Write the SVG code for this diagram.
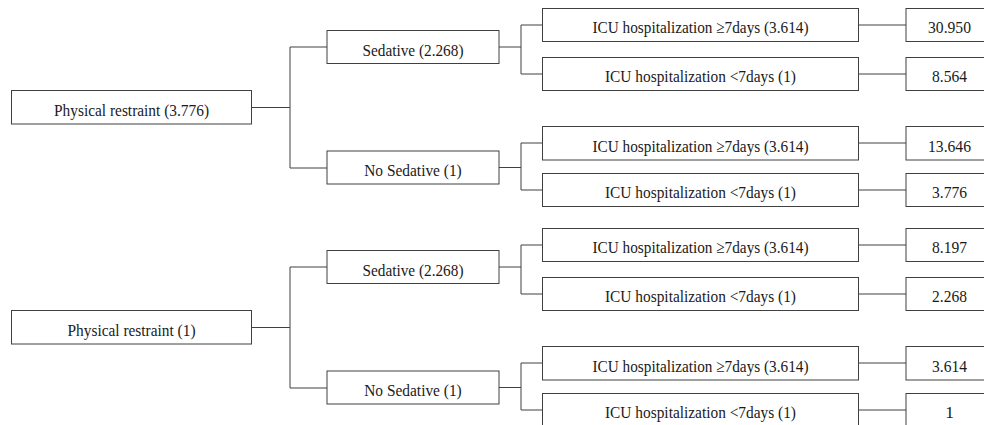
<svg xmlns="http://www.w3.org/2000/svg" width="984" height="425" viewBox="0 0 984 425">
<style>
rect{fill:#fff;stroke:#404040;stroke-width:1}
text{font-family:"Liberation Serif","Times New Roman",serif;font-size:17.5px;fill:#1a1a1a;text-anchor:middle}
.c path{fill:none;stroke:#404040;stroke-width:1}
</style>
<rect x="0" y="0" width="984" height="425" style="stroke:none"/>
<g class="c" id="connectors">
<path d="M251.5 107.5H290M290 47V168M290 47H327M290 168H327"/>
<path d="M499 47H521M521 25V74M521 25H542.5M521 74H542.5"/>
<path d="M499 167.5H521M521 143V190M521 143H542.5M521 190H542.5"/>
<path d="M858.5 25H906M858.5 74H906M858.5 143H906M858.5 190H906"/>
<path d="M251.5 327.5H290M290 267V388M290 267H327M290 388H327"/>
<path d="M499 267H521M521 245V294M521 245H542.5M521 294H542.5"/>
<path d="M499 387.5H521M521 363V410M521 363H542.5M521 410H542.5"/>
<path d="M858.5 245H906M858.5 294H906M858.5 363H906M858.5 410H906"/>
</g>
<g id="pr1"><rect x="11.5" y="90.5" width="240" height="33.5"/><text x="131.5" y="115.5" textLength="155" lengthAdjust="spacingAndGlyphs">Physical restraint (3.776)</text></g>
<g id="sed1"><rect x="327" y="30.5" width="172" height="33"/><text x="413" y="55.5" textLength="101" lengthAdjust="spacingAndGlyphs">Sedative (2.268)</text></g>
<g id="nosed1"><rect x="327" y="151" width="172" height="33"/><text x="413" y="176" textLength="97.5" lengthAdjust="spacingAndGlyphs">No Sedative (1)</text></g>
<g id="icu1"><rect x="542.5" y="8.5" width="316" height="33"/><text x="700.5" y="33.3" textLength="216" lengthAdjust="spacingAndGlyphs">ICU hospitalization ≥7days (3.614)</text></g>
<g id="icu2"><rect x="542.5" y="57.5" width="316" height="33"/><text x="700.5" y="82.3" textLength="191" lengthAdjust="spacingAndGlyphs">ICU hospitalization &lt;7days (1)</text></g>
<g id="icu3"><rect x="542.5" y="126.5" width="316" height="33.5"/><text x="700.5" y="151.5" textLength="216" lengthAdjust="spacingAndGlyphs">ICU hospitalization ≥7days (3.614)</text></g>
<g id="icu4"><rect x="542.5" y="173.5" width="316" height="33"/><text x="700.5" y="198.3" textLength="191" lengthAdjust="spacingAndGlyphs">ICU hospitalization &lt;7days (1)</text></g>
<g id="v1"><rect x="906" y="8.5" width="87" height="33"/><text x="949.5" y="33.3" textLength="43" lengthAdjust="spacingAndGlyphs">30.950</text></g>
<g id="v2"><rect x="906" y="57.5" width="87" height="33"/><text x="949.5" y="82.3" textLength="35" lengthAdjust="spacingAndGlyphs">8.564</text></g>
<g id="v3"><rect x="906" y="126.5" width="87" height="33.5"/><text x="949.5" y="151.5" textLength="43" lengthAdjust="spacingAndGlyphs">13.646</text></g>
<g id="v4"><rect x="906" y="173.5" width="87" height="33"/><text x="949.5" y="198.3" textLength="35" lengthAdjust="spacingAndGlyphs">3.776</text></g>
<g id="pr2"><rect x="11.5" y="310.5" width="240" height="33.5"/><text x="131.5" y="335.5" textLength="128" lengthAdjust="spacingAndGlyphs">Physical restraint (1)</text></g>
<g id="sed2"><rect x="327" y="250.5" width="172" height="33"/><text x="413" y="275.5" textLength="101" lengthAdjust="spacingAndGlyphs">Sedative (2.268)</text></g>
<g id="nosed2"><rect x="327" y="371" width="172" height="33"/><text x="413" y="396" textLength="97.5" lengthAdjust="spacingAndGlyphs">No Sedative (1)</text></g>
<g id="icu5"><rect x="542.5" y="228.5" width="316" height="33"/><text x="700.5" y="253.3" textLength="216" lengthAdjust="spacingAndGlyphs">ICU hospitalization ≥7days (3.614)</text></g>
<g id="icu6"><rect x="542.5" y="277.5" width="316" height="33"/><text x="700.5" y="302.3" textLength="191" lengthAdjust="spacingAndGlyphs">ICU hospitalization &lt;7days (1)</text></g>
<g id="icu7"><rect x="542.5" y="346.5" width="316" height="33.5"/><text x="700.5" y="371.5" textLength="216" lengthAdjust="spacingAndGlyphs">ICU hospitalization ≥7days (3.614)</text></g>
<g id="icu8"><rect x="542.5" y="393.5" width="316" height="33"/><text x="700.5" y="418.3" textLength="191" lengthAdjust="spacingAndGlyphs">ICU hospitalization &lt;7days (1)</text></g>
<g id="v5"><rect x="906" y="228.5" width="87" height="33"/><text x="949.5" y="253.3" textLength="35" lengthAdjust="spacingAndGlyphs">8.197</text></g>
<g id="v6"><rect x="906" y="277.5" width="87" height="33"/><text x="949.5" y="302.3" textLength="35" lengthAdjust="spacingAndGlyphs">2.268</text></g>
<g id="v7"><rect x="906" y="346.5" width="87" height="33.5"/><text x="949.5" y="371.5" textLength="35" lengthAdjust="spacingAndGlyphs">3.614</text></g>
<g id="v8"><rect x="906" y="393.5" width="87" height="33"/><text x="949.5" y="418.3">1</text></g>
</svg>
